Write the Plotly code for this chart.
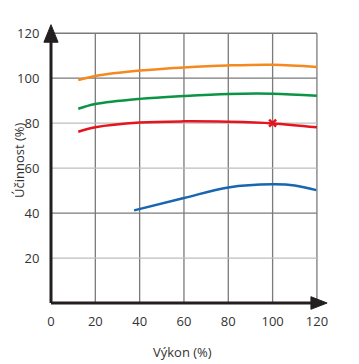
import plotly.graph_objects as go

# Data
orange_x = [12.3, 20, 40, 60, 80, 100, 120]
orange_y = [99.2, 101.0, 103.4, 104.8, 105.7, 106.0, 105.0]
green_x = [12.3, 20, 40, 60, 80, 100, 120]
green_y = [86.4, 88.5, 90.8, 92.1, 93.0, 93.1, 92.2]
red_x = [12.3, 20, 40, 60, 80, 100, 120]
red_y = [76.2, 78.2, 80.3, 80.8, 80.6, 79.9, 78.2]
blue_x = [37.5, 60, 80, 100, 110, 119.7]
blue_y = [41.2, 46.7, 51.4, 52.8, 52.3, 50.2]
marker_x = [100]
marker_y = [80]

x_ticks = [0, 20, 40, 60, 80, 100, 120]
y_ticks = [20, 40, 60, 80, 100, 120]
x_grid = [20, 40, 60, 80, 100, 120]
y_grid = [20, 40, 60, 80, 100, 120]
y_grid_dark = [40, 100, 120]

XMAX = 125.0
YMAX = 125.0
FONT = "Open Sans"


def px(v):
    return v / XMAX


def py(v):
    return v / YMAX


fig = go.Figure()
for xs, ys, col in [(orange_x, orange_y, "#F4891F"), (green_x, green_y, "#0B9444"),
                    (red_x, red_y, "#E5141F"), (blue_x, blue_y, "#1766B1")]:
    fig.add_trace(go.Scatter(x=xs, y=ys, mode="lines",
                             line=dict(color=col, width=2.5, shape="spline", smoothing=1.0),
                             hoverinfo="skip", showlegend=False))
fig.add_trace(go.Scatter(x=marker_x, y=marker_y, mode="markers",
                         marker=dict(symbol="x-thin", size=7, line=dict(color="#E5141F", width=2.5)),
                         showlegend=False))

shapes = []
for gx in x_grid:
    shapes.append(dict(type="line", xref="paper", yref="paper", x0=px(gx), x1=px(gx),
                       y0=0, y1=py(120),
                       line=dict(color="#7a7a7a", width=1.3), layer="below"))
for gy in y_grid:
    col = "#7a7a7a" if gy in y_grid_dark else "#bdbdbd"
    shapes.append(dict(type="line", xref="paper", yref="paper", x0=0, x1=px(120),
                       y0=py(gy), y1=py(gy),
                       line=dict(color=col, width=1.3), layer="below"))
# axes with arrows
shapes.append(dict(type="line", xref="paper", yref="paper", x0=0, x1=px(121), y0=0, y1=0,
                   line=dict(color="#231f20", width=3)))
shapes.append(dict(type="line", xref="paper", yref="paper", x0=0, x1=0, y0=0, y1=py(117),
                   line=dict(color="#231f20", width=3)))
shapes.append(dict(type="path", xref="paper", yref="paper",
                   path=f"M {px(117.3)},{py(-2.8)} L {px(124.6)},0 L {px(117.3)},{py(2.8)} Z",
                   fillcolor="#231f20", line=dict(color="#231f20", width=1)))
shapes.append(dict(type="path", xref="paper", yref="paper",
                   path=f"M {px(-3.2)},{py(116.0)} L 0,{py(123.8)} L {px(3.2)},{py(116.0)} Z",
                   fillcolor="#231f20", line=dict(color="#231f20", width=1)))

fig.update_layout(
    width=359, height=364,
    margin=dict(l=51, r=31, t=22, b=61),
    paper_bgcolor="white", plot_bgcolor="white",
    shapes=shapes,
    font=dict(family=FONT, size=13, color="#333333"),
    xaxis=dict(range=[0, XMAX], tickvals=x_ticks, showgrid=False, zeroline=False,
               showline=False, ticks="outside", ticklen=6, tickcolor="rgba(0,0,0,0)",
               automargin=False,
               tickfont=dict(family=FONT, size=13, color="#333333")),
    yaxis=dict(range=[0, YMAX], tickvals=y_ticks, showgrid=False, zeroline=False,
               showline=False, ticks="outside", ticklen=8, tickcolor="rgba(0,0,0,0)",
               automargin=False,
               tickfont=dict(family=FONT, size=13, color="#333333")),
    annotations=[
        dict(text="Výkon (%)", xref="paper", yref="paper", x=0.475, y=-0.175,
             showarrow=False, font=dict(family=FONT, size=13, color="#333333"),
             xanchor="center", yanchor="middle"),
        dict(text="Účinnost (%)", xref="paper", yref="paper", x=-0.118, y=0.51,
             textangle=-90, showarrow=False,
             font=dict(family=FONT, size=13, color="#333333"),
             xanchor="center", yanchor="middle"),
    ],
)

fig.write_html("out.html", config={"displayModeBar": False},
               post_script="document.body.style.margin='0';document.body.style.overflow='hidden';")
